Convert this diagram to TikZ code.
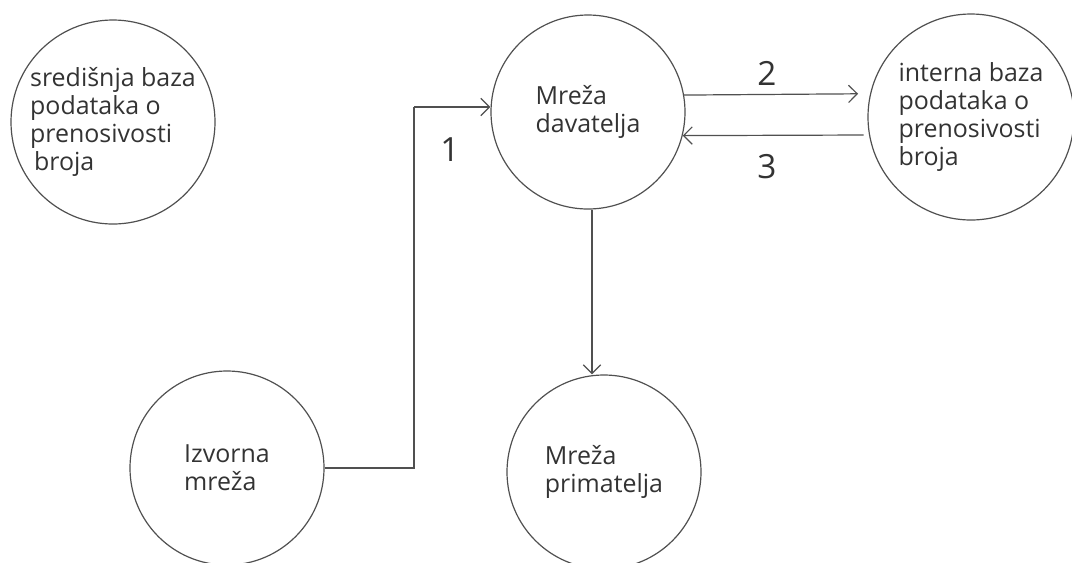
\documentclass[tikz,border=0pt]{standalone}
\usepackage{fontspec}
\setmainfont{Open Sans}
\usetikzlibrary{arrows.meta,calc}
\definecolor{ln}{HTML}{505050}
\definecolor{tx}{HTML}{333333}
\begin{document}
\begin{tikzpicture}[x=0.75pt,y=-0.75pt,
  bubble/.style={circle,draw=ln,line width=0.9pt,inner sep=0pt,align=left,text=tx,
     font=\fontsize{18.7}{21}\selectfont},
  arr/.style={draw=ln,line width=0.9pt,-{Straight Barb[length=6.5pt,width=13pt,line width=0.9pt]}},
  conn/.style={draw=ln,line width=0.9pt},
  num/.style={text=tx,font=\fontsize{25}{28}\selectfont,inner sep=0pt}]
\clip (0,0) rectangle (1072,562);
\fill[white] (0,0) rectangle (1072,562);
\node[bubble,minimum size=153pt] (c1) at (113,122) {središnja baza\\podataka o\\prenosivosti\\\hspace{3pt}broja};
\node[bubble,minimum size=145.5pt] (c2) at (588,112) {Mreža\\davatelja};
\node[bubble,minimum size=154.5pt] (c3) at (971,117) {interna baza\\podataka o\\prenosivosti\\broja};
\node[bubble,minimum size=145.5pt] (c4) at (227,468) {Izvorna\\mreža};
\node[bubble,minimum size=145.5pt] (c5) at (604,472) {Mreža\\primatelja};
% connector 1
\coordinate (k1) at (414,107);
\draw[conn] (c4.east) -| (k1);
\draw[arr] (k1) -- (c2.west |- k1);
% connector 2
\draw[arr,shorten >=9pt] (c2.10.7) -- (c3.167.1);
% connector 3
\draw[arr,shorten <=4pt] (c3.190.6) -- (c2.-14.3);
% connector to receiver
\coordinate (v5) at (592,300);
\draw[arr] (c2.south -| v5) -- (c5.north -| v5);
\node[num] (l1) at (450,150) {1};
\node[num] (l2) at (767,73) {2};
\node[num] (l3) at (767,167) {3};
\end{tikzpicture}
\end{document}
